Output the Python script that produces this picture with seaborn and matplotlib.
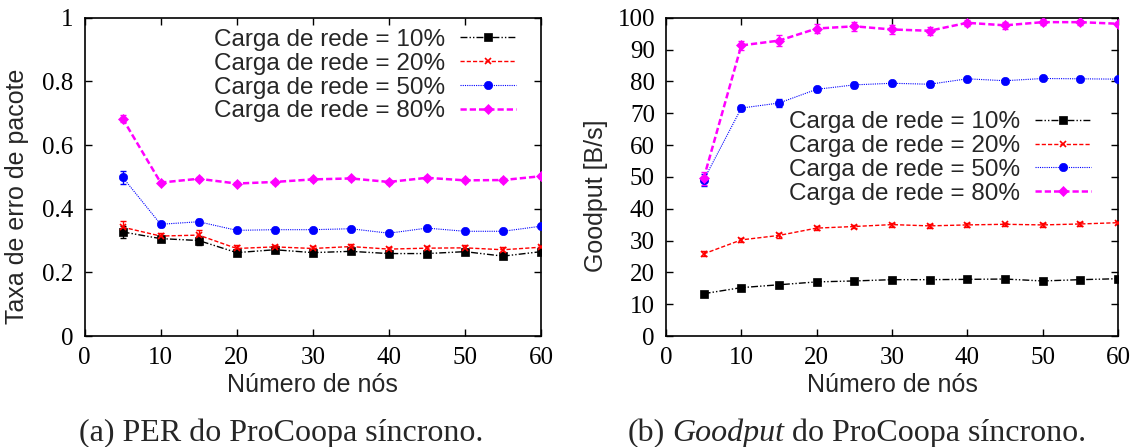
import numpy as np
import pandas as pd
import matplotlib
matplotlib.use("Agg")
import matplotlib.pyplot as plt
import seaborn as sns

# ── Data ─────────────────────────────────────────────────────────────────────
NOS = [5, 10, 15, 20, 25, 30, 35, 40, 45, 50, 55, 60]
CARGAS = ["10%", "20%", "50%", "80%"]

PER_10 = [0.327, 0.306, 0.300, 0.262, 0.271, 0.262, 0.266, 0.259, 0.259, 0.265, 0.251, 0.265]
PER_20 = [0.342, 0.314, 0.317, 0.275, 0.280, 0.275, 0.281, 0.273, 0.276, 0.277, 0.271, 0.279]
PER_50 = [0.499, 0.351, 0.359, 0.332, 0.334, 0.334, 0.337, 0.323, 0.339, 0.329, 0.329, 0.345]
PER_80 = [0.683, 0.482, 0.494, 0.479, 0.484, 0.492, 0.495, 0.484, 0.497, 0.489, 0.490, 0.502]

PER_ERR_10 = [0.020, 0.008, 0.015, 0.008, 0.006, 0.006, 0.006, 0.006, 0.006, 0.006, 0.006, 0.006]
PER_ERR_20 = [0.020, 0.010, 0.015, 0.010, 0.007, 0.007, 0.008, 0.008, 0.008, 0.008, 0.008, 0.008]
PER_ERR_50 = [0.020, 0.008, 0.010, 0.006, 0.005, 0.005, 0.005, 0.005, 0.005, 0.005, 0.005, 0.005]
PER_ERR_80 = [0.010, 0.005, 0.005, 0.005, 0.005, 0.005, 0.005, 0.005, 0.005, 0.005, 0.005, 0.005]

GP_10 = [13.3, 15.2, 16.1, 17.0, 17.3, 17.7, 17.7, 17.8, 17.9, 17.3, 17.7, 18.0]
GP_20 = [25.8, 30.2, 31.6, 33.9, 34.4, 35.0, 34.6, 34.9, 35.1, 34.9, 35.2, 35.6]
GP_50 = [49.0, 71.6, 73.2, 77.5, 78.9, 79.4, 79.1, 80.8, 80.2, 80.9, 80.8, 80.7]
GP_80 = [49.5, 91.3, 92.8, 96.6, 97.3, 96.3, 95.9, 98.4, 97.6, 98.6, 98.6, 98.1]

GP_ERR_10 = [0.4, 0.4, 0.4, 0.3, 0.3, 0.3, 0.3, 0.3, 0.3, 0.3, 0.3, 0.3]
GP_ERR_20 = [0.8, 0.6, 0.8, 0.6, 0.6, 0.6, 0.6, 0.5, 0.5, 0.5, 0.5, 0.4]
GP_ERR_50 = [2.0, 1.0, 1.2, 0.8, 1.0, 0.8, 1.0, 0.6, 0.6, 0.5, 0.5, 0.4]
GP_ERR_80 = [2.0, 1.5, 1.8, 1.5, 1.5, 1.3, 1.3, 1.0, 1.0, 1.0, 0.8, 0.6]

PER = [PER_10, PER_20, PER_50, PER_80]
PER_ERR = [PER_ERR_10, PER_ERR_20, PER_ERR_50, PER_ERR_80]
GP = [GP_10, GP_20, GP_50, GP_80]
GP_ERR = [GP_ERR_10, GP_ERR_20, GP_ERR_50, GP_ERR_80]

# ── Style ────────────────────────────────────────────────────────────────────
SERIF = "Liberation Serif"
SANS = "Liberation Sans"
CAPTION_SIZE = 23
STYLES = [
    dict(color="black",   marker="s", ms=6.0, lw=1.0, dashes=(5, 1.5, 1, 1.5, 1, 1.5)),
    dict(color="#FF0000", marker="x", ms=5.0, lw=1.0, dashes=(3, 1.5)),
    dict(color="#0000FF", marker="o", ms=6.0, lw=0.8, dashes=(1, 1)),
    dict(color="#FF00FF", marker="D", ms=5.5, lw=1.8, dashes=(2.5, 1.2)),
]

sns.set_theme(style="ticks")
plt.rcParams["font.family"] = [SANS, "DejaVu Sans"]


def plot_panel(ax, values, errors, ylim, yticks, yticklabels, ylabel, label_x, leg_anchor):
    for carga, y, err, st in zip(CARGAS, values, errors, STYLES):
        df = pd.DataFrame({"nos": NOS, "val": y})
        ax.errorbar(NOS, y, yerr=err, fmt="none", ecolor=st["color"],
                    elinewidth=1.0, capsize=2.5, capthick=1.0, zorder=2)
        sns.lineplot(data=df, x="nos", y="val", ax=ax, color=st["color"],
                     marker=st["marker"], markersize=st["ms"], linewidth=st["lw"],
                     dashes=st["dashes"], markeredgecolor=st["color"],
                     markeredgewidth=1.2 if st["marker"] == "x" else 0.5,
                     label=f"Carga de rede = {carga}", zorder=3)

    ax.set_xlim(0, 60)
    ax.set_ylim(*ylim)
    ax.set_xticks(range(0, 61, 10))
    ax.set_yticks(yticks)
    ax.set_yticklabels(yticklabels)
    ax.tick_params(direction="in", length=5, width=1, top=True, right=True,
                   labelsize=18, pad=8, colors="black")
    for lab in ax.get_xticklabels() + ax.get_yticklabels():
        lab.set_fontfamily(SERIF)
    for sp in ax.spines.values():
        sp.set_visible(True)
        sp.set_linewidth(1.2)
        sp.set_color("black")

    ax.set_xlabel("Número de nós", fontsize=18, labelpad=3)
    ax.set_ylabel(ylabel, fontsize=18)
    ax.yaxis.set_label_coords(label_x, 0.44)

    ax.legend(loc="upper right", bbox_to_anchor=leg_anchor, frameon=False,
              markerfirst=False, fontsize=17.5, handlelength=2.3, handletextpad=0.6,
              labelspacing=0.075, borderpad=0, borderaxespad=0)


def caption(fig, xc, y, parts):
    # parts: list of (text, fontstyle); drawn one after another, centred on xc
    texts = [fig.text(0, y, s, fontsize=CAPTION_SIZE, family=SERIF, style=st,
                      ha="left", va="center") for s, st in parts]
    fig.canvas.draw()
    rend = fig.canvas.get_renderer()
    fig_w = fig.bbox.width
    gap = 0.25 * CAPTION_SIZE * fig.dpi / 72
    widths = [t.get_window_extent(rend).width for t in texts]
    x = xc * fig_w - (sum(widths) + gap * (len(parts) - 1)) / 2
    for t, w in zip(texts, widths):
        t.set_x(x / fig_w)
        x += w + gap


fig = plt.figure(figsize=(11.41, 4.47), dpi=100)
ax1 = fig.add_axes([0.0741, 0.2483, 0.4001, 0.7121])
ax2 = fig.add_axes([0.5837, 0.2483, 0.3961, 0.7121])

plot_panel(ax1, PER, PER_ERR, (0, 1), np.arange(0, 1.01, 0.2),
           ["0", "0.2", "0.4", "0.6", "0.8", "1"], "Taxa de erro de pacote",
           -0.122, (0.945, 0.965))
plot_panel(ax2, GP, GP_ERR, (0, 100), range(0, 101, 10),
           [str(v) for v in range(0, 101, 10)], "Goodput [B/s]",
           -0.128, (0.94, 0.706))

caption(fig, 0.2467, 0.031, [("(a) PER do ProCoopa síncrono.", "normal")])
caption(fig, 0.751, 0.031, [("(b)", "normal"), ("Goodput", "italic"),
                            ("do ProCoopa síncrono.", "normal")])

fig.savefig("out.png", dpi=100)
